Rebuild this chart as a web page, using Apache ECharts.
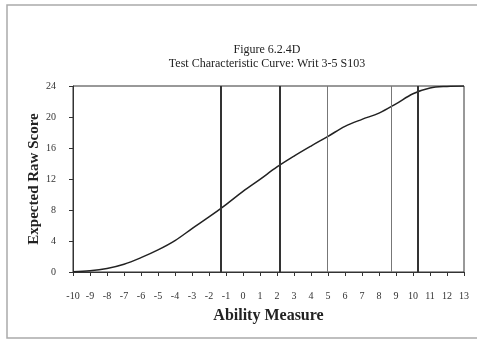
<!DOCTYPE html>
<html>
<head>
<meta charset="utf-8">
<script src="https://cdn.jsdelivr.net/npm/echarts@6/dist/echarts.min.js"></script>
<style>html,body{margin:0;padding:0;background:#fff;}#c{width:477px;height:339px;}</style>
</head>
<body>
<div id="c"></div>
<script>
var titleLines = ['Figure 6.2.4D', 'Test Characteristic Curve: Writ 3-5 S103'];
var abilityValues = [-10, -9, -8, -7, -6, -5, -4, -3, -2, -1, 0, 1, 2, 3, 4, 5, 6, 7, 8, 9, 10, 11, 12, 13];
var expectedScores = [0.04, 0.15, 0.45, 1.0, 1.85, 2.85, 4.05, 5.6, 7.1, 8.7, 10.4, 11.95, 13.55, 14.95, 16.25, 17.5, 18.8, 19.7, 20.5, 21.7, 23.0, 23.75, 23.95, 24.0];
var refLinesThick = [-1.3, 2.15, 10.3];
var refLinesThin = [4.95, 8.7];

var chart = echarts.init(document.getElementById('c'), null, {renderer: 'canvas'});
var serif = '"Liberation Serif", "DejaVu Serif", serif';
var marks = [];
refLinesThick.forEach(function (v) { marks.push({xAxis: v, lineStyle: {color: '#333', width: 2, type: 'solid'}}); });
refLinesThin.forEach(function (v) { marks.push({xAxis: v, lineStyle: {color: '#777', width: 1, type: 'solid'}}); });

chart.setOption({
  animation: false,
  backgroundColor: '#fff',
  title: {
    text: titleLines[0] + '\n' + titleLines[1],
    left: 262, top: 38, textAlign: 'center',
    textStyle: {fontFamily: serif, fontSize: 12, fontWeight: 'normal', color: '#222', lineHeight: 14}
  },
  graphic: [{
    type: 'rect', shape: {x: 7, y: 5, width: 500, height: 333},
    style: {fill: 'none', stroke: '#aaa', lineWidth: 1.5}, silent: true, z: -10
  }],
  grid: {left: 73, right: 13, top: 86, bottom: 67, show: true, borderColor: '#333', borderWidth: 1, backgroundColor: 'transparent'},
  xAxis: {
    type: 'value', min: -10, max: 13, interval: 1,
    name: 'Ability Measure', nameLocation: 'middle', nameGap: 36, nameMoveOverlap: false,
    nameTextStyle: {fontFamily: serif, fontSize: 16, fontWeight: 'bold', color: '#222'},
    axisLine: {show: true, onZero: false, lineStyle: {color: '#333', width: 1}},
    axisTick: {show: true, inside: false, length: 4, lineStyle: {color: '#333'}},
    axisLabel: {fontFamily: serif, fontSize: 10, color: '#333', margin: 19},
    splitLine: {show: false}
  },
  yAxis: {
    type: 'value', min: 0, max: 24, interval: 4,
    name: 'Expected Raw Score', nameLocation: 'middle', nameGap: 31, nameRotate: 90, nameMoveOverlap: false,
    nameTextStyle: {fontFamily: serif, fontSize: 15, fontWeight: 'bold', color: '#222'},
    axisLine: {show: true, onZero: false, lineStyle: {color: '#333', width: 1}},
    axisTick: {show: true, inside: false, length: 4, lineStyle: {color: '#333'}},
    axisLabel: {fontFamily: serif, fontSize: 10, color: '#333', margin: 17},
    splitLine: {show: false}
  },
  series: [{
    type: 'line',
    data: abilityValues.map(function (x, i) { return [x, expectedScores[i]]; }),
    smooth: 0.35,
    showSymbol: false,
    lineStyle: {color: '#222', width: 1.5},
    markLine: {silent: true, symbol: 'none', label: {show: false}, data: marks}
  }]
});
</script>
</body>
</html>
